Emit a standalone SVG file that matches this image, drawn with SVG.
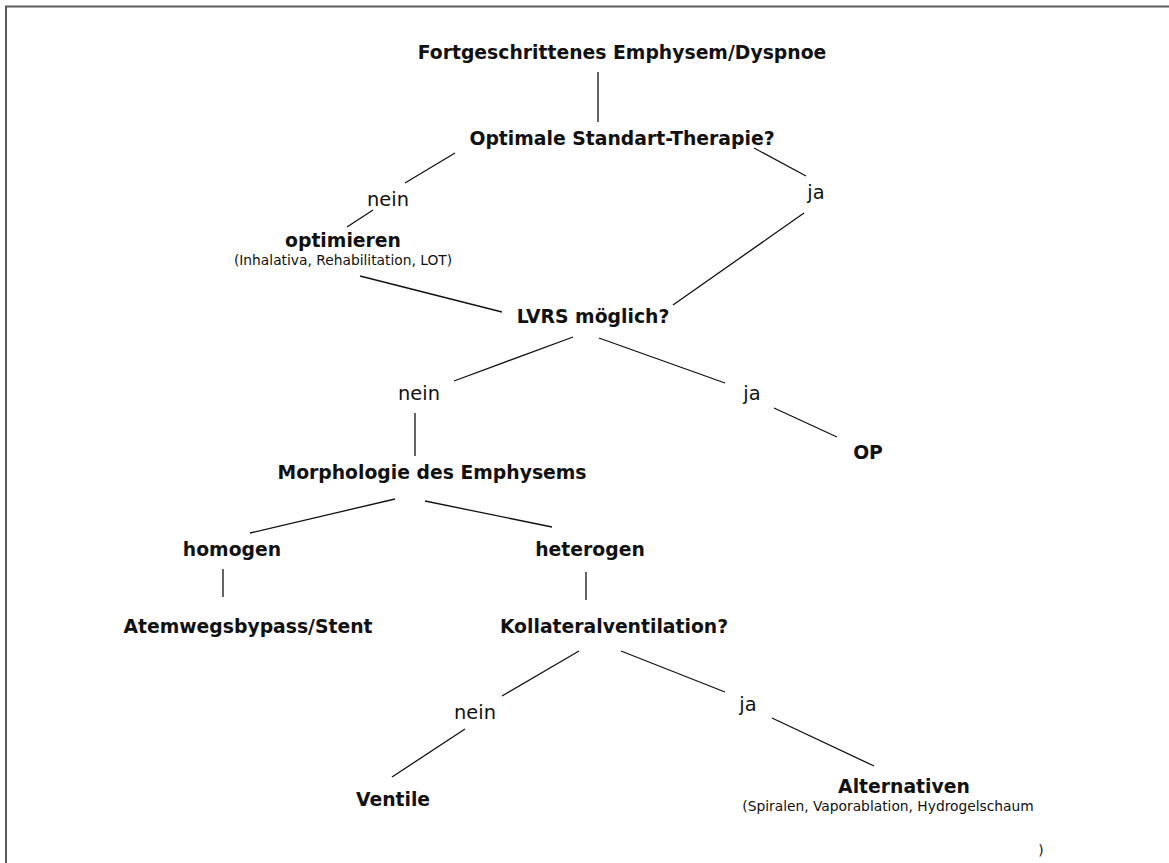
<svg xmlns="http://www.w3.org/2000/svg" width="1169" height="863" viewBox="0 0 1169 863">
  <style>
    .b { font-family: "DejaVu Sans", "Liberation Sans", sans-serif; font-weight: bold; font-size: 18.8px; fill: #111; text-anchor: middle; }
    .l { font-family: "DejaVu Sans", "Liberation Sans", sans-serif; font-size: 19.4px; fill: #111; text-anchor: middle; }
    .s { font-family: "DejaVu Sans", "Liberation Sans", sans-serif; font-size: 13.8px; fill: #111; text-anchor: middle; }
    .c line { stroke: #111; stroke-width: 1.3; }
  </style>
  <rect x="0" y="0" width="1169" height="863" fill="#fff"/>
  <path d="M6,863 V6.5 H1169" fill="none" stroke="#5a5a5a" stroke-width="2"/>

  <g id="connectors" class="c">
    <line x1="598" y1="72" x2="598" y2="122"/>
    <line x1="455" y1="153" x2="405" y2="183"/>
    <line x1="754" y1="148" x2="806" y2="176"/>
    <line x1="373" y1="210" x2="347" y2="227"/>
    <line x1="360" y1="276" x2="502" y2="312"/>
    <line x1="804" y1="213" x2="673" y2="305"/>
    <line x1="573" y1="337" x2="454" y2="381"/>
    <line x1="599" y1="338" x2="725" y2="383"/>
    <line x1="415" y1="413" x2="415" y2="456"/>
    <line x1="774" y1="408" x2="837" y2="437"/>
    <line x1="395" y1="499" x2="250" y2="533"/>
    <line x1="425" y1="501" x2="552" y2="527"/>
    <line x1="223" y1="569" x2="223" y2="597"/>
    <line x1="586" y1="572" x2="586" y2="600"/>
    <line x1="579" y1="651" x2="502" y2="696"/>
    <line x1="621" y1="651" x2="725" y2="692"/>
    <line x1="465" y1="729" x2="392" y2="777"/>
    <line x1="772" y1="718" x2="874" y2="766"/>
  </g>

  <g id="n-start"><text class="b" x="622" y="59">Fortgeschrittenes Emphysem/Dyspnoe</text></g>
  <g id="n-therapie"><text class="b" x="622" y="145">Optimale Standart-Therapie?</text></g>
  <g id="l-nein1"><text class="l" x="388" y="206">nein</text></g>
  <g id="l-ja1"><text class="l" x="816" y="199">ja</text></g>
  <g id="n-optimieren">
    <text class="b" x="343" y="247">optimieren</text>
    <text class="s" x="343" y="265">(Inhalativa, Rehabilitation, LOT)</text>
  </g>
  <g id="n-lvrs"><text class="b" x="593" y="323">LVRS möglich?</text></g>
  <g id="l-nein2"><text class="l" x="419" y="400">nein</text></g>
  <g id="l-ja2"><text class="l" x="752" y="400">ja</text></g>
  <g id="n-op"><text class="b" x="868" y="459">OP</text></g>
  <g id="n-morphologie"><text class="b" x="432" y="479">Morphologie des Emphysems</text></g>
  <g id="n-homogen"><text class="b" x="232" y="556">homogen</text></g>
  <g id="n-heterogen"><text class="b" x="590" y="556">heterogen</text></g>
  <g id="n-bypass"><text class="b" x="248" y="633">Atemwegsbypass/Stent</text></g>
  <g id="n-kollateral"><text class="b" x="614" y="633">Kollateralventilation?</text></g>
  <g id="l-nein3"><text class="l" x="475" y="719">nein</text></g>
  <g id="l-ja3"><text class="l" x="748" y="711">ja</text></g>
  <g id="n-ventile"><text class="b" x="393" y="806">Ventile</text></g>
  <g id="n-alternativen">
    <text class="b" x="904" y="793">Alternativen</text>
    <text class="s" x="888" y="811">(Spiralen, Vaporablation, Hydrogelschaum</text>
    <text class="s" x="1041" y="855">)</text>
  </g>
</svg>
